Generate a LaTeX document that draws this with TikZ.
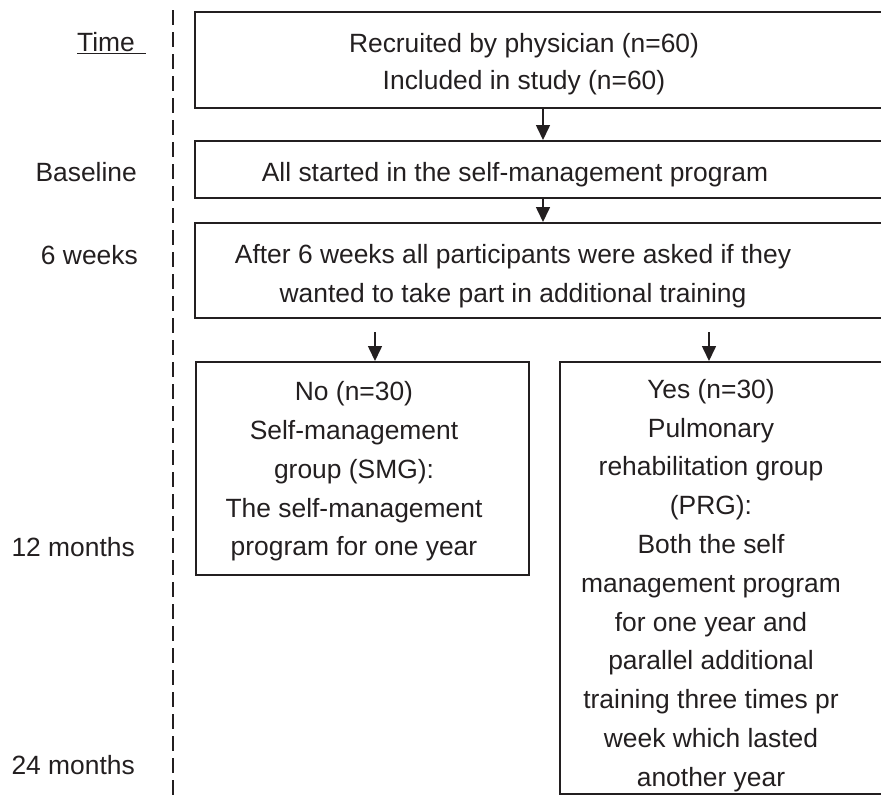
\documentclass[tikz,border=0pt]{standalone}
\usepackage{fontspec}
\setmainfont{Liberation Sans}
\usetikzlibrary{positioning, arrows.meta}

\definecolor{ink}{HTML}{231F20}

\begin{document}
\begin{tikzpicture}[x=1pt, y=-1pt,
    every node/.style={text=ink, font=\fontsize{26.4pt}{38.8pt}\selectfont},
    box/.style={draw=ink, line width=2.4pt, rectangle, anchor=north west, inner sep=0pt},
    txt/.style={align=center, inner sep=0pt},
    tlabel/.style={anchor=base east, inner sep=0pt},
    arr/.style={draw=ink, line width=1.6pt, -{Triangle[length=15pt, width=14pt]}},
    timeline/.style={draw=ink, line width=2pt, dash pattern=on 15pt off 7pt}]
      \clip (0,0) rectangle (881,796);

      % Time axis on the left
      \coordinate (axisTop) at (173,10);
      \coordinate (axisEnd) at (173,800);
      \draw[timeline] (axisTop) -- (axisEnd);
      \node[tlabel] (tTime) at (146,51.5) {\underline{Time\hspace{11pt}}};
      \node[tlabel] (tBase) at (137,181.5) {Baseline};
      \node[tlabel] (tSix) at (138,264.5) {6 weeks};
      \node[tlabel] (tTwelve) at (135,556.5) {12 months};
      \node[tlabel] (tTwentyFour) at (135,774.5) {24 months};

      % Boxes of the flow (they run past the right edge)
      \node[box, minimum width=766pt, minimum height=96pt] (recruit) at (194,11) {};
      \node[box, minimum width=766pt, minimum height=57pt] (started) at (194,140) {};
      \node[box, minimum width=766pt, minimum height=95pt] (asked) at (194,222) {};
      \node[box, minimum width=333pt, minimum height=213pt] (noBox) at (195,361) {};
      \node[box, minimum width=401pt, minimum height=432pt] (yesBox) at (559,361) {};

      % Texts in the boxes
      \node[txt, font=\fontsize{26.4pt}{37.5pt}\selectfont] (recruitTxt) at (524,64) {Recruited by physician (n=60)\\Included in study (n=60)};
      \node[txt] (startedTxt) at (515,174.5) {All started in the self-management program};
      \node[txt] (askedTxt) at (513,276.5) {After 6 weeks all participants were asked if they\\wanted to take part in additional training};
      \node[txt] (noTxt) at (354,471.5) {No (n=30)\\Self-management\\group (SMG):\\The self-management\\program for one year};
      \node[txt] (yesTxt) at (711,585.5) {Yes (n=30)\\Pulmonary\\rehabilitation group\\(PRG):\\Both the self\\management program\\for one year and\\parallel additional\\training three times pr\\week which lasted\\another year};

      % Connections
      \coordinate (spine) at (543,0);
      \coordinate (noStart) at (375,332);
      \coordinate (yesStart) at (709,332);
      \draw[arr] (recruit.south -| spine) -- (started.north -| spine);
      \draw[arr] (started.south -| spine) -- (asked.north -| spine);
      \draw[arr] (noStart) -- (noBox.north -| noStart);
      \draw[arr] (yesStart) -- (yesBox.north -| yesStart);
\end{tikzpicture}
\end{document}
